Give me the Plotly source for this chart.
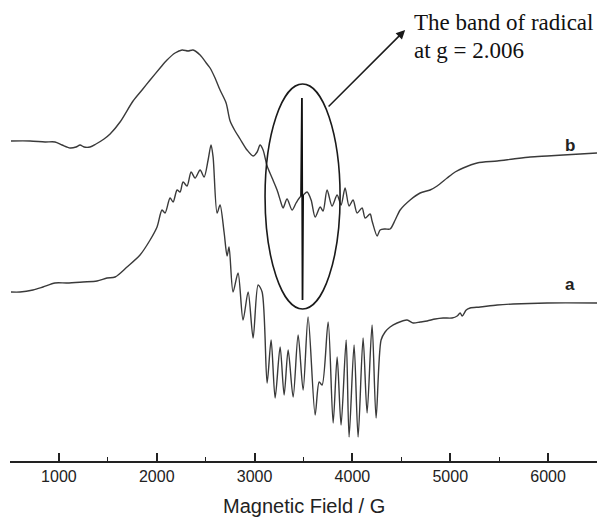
import plotly.graph_objects as go

# ---- EPR spectra (field in G, intensity in arbitrary units) ----
field_b = [510, 705, 858, 960, 1032, 1114, 1175, 1216, 1257, 1318, 1379, 1461, 1523,
           1625, 1758, 1850, 1932, 2034, 2105, 2187, 2259, 2320, 2371, 2443, 2514,
           2545, 2596, 2647, 2709, 2750, 2801, 2852, 2923, 2985, 3026, 3056, 3087,
           3128, 3179, 3230, 3271, 3291, 3332, 3383, 3424, 3465, 3496, 3537, 3578,
           3619, 3670, 3700, 3741, 3792, 3844, 3884, 3925, 3966, 4007, 4048, 4099,
           4130, 4181, 4201, 4253, 4283, 4334, 4385, 4437, 4488, 4590, 4692, 4794,
           4866, 4968, 5050, 5132, 5275, 5480, 5643, 5817, 5991, 6154, 6328, 6500]
signal_b = [0, 0, -1, -1, -4, -7, -6, -4, -6, -6, -3, 2, 7,
            19, 40, 51, 61, 73, 81, 88, 91, 90, 91, 86, 77,
            73, 63, 51, 38, 20, 10, 2, -9, -15, -11, -4, -9,
            -25, -37, -49, -62, -67, -58, -69, -62, -56, -54, -51, -59,
            -76, -66, -70, -49, -65, -54, -64, -47, -65, -59, -72, -67,
            -77, -73, -80, -95, -89, -88, -88, -79, -69, -59, -52, -49,
            -45, -37, -31, -27, -22, -20, -18, -16, -15, -14, -13, -12]

# narrow radical line (g = 2.006) superimposed on spectrum b
field_radical = [3475, 3484, 3490, 3496]
signal_radical = [-55, 43, -159, -54]

field_a = [510, 602, 735, 837, 960, 1083, 1246, 1390, 1492, 1574, 1696, 1829, 1932,
           2003, 2054, 2085, 2136, 2167, 2208, 2238, 2269, 2310, 2351, 2392, 2443,
           2484, 2525, 2555, 2576, 2617, 2647, 2688, 2719, 2739, 2780, 2831, 2882,
           2934, 2985, 3036, 3077, 3128, 3169, 3210, 3261, 3302, 3343, 3394, 3445,
           3496, 3547, 3619, 3660, 3690, 3752, 3803, 3844, 3884, 3936, 3966, 4017,
           4058, 4109, 4150, 4201, 4242, 4293, 4334, 4385, 4457, 4559, 4621, 4692,
           4764, 4846, 4927, 5019, 5071, 5101, 5122, 5163, 5203, 5306, 5480, 5643,
           5991, 6500]
signal_a = [0, 0, 2, 5, 9, 9, 10, 11, 14, 15, 25, 37, 52,
            65, 82, 79, 94, 90, 102, 100, 110, 106, 120, 114, 122,
            115, 132, 147, 135, 79, 87, 60, 36, 45, 0, 19, -28,
            0, -46, 7, 0, -91, -48, -106, -55, -103, -58, -105, -43,
            -98, -25, -123, -90, -93, -30, -131, -65, -133, -48, -145, -53,
            -145, -46, -121, -33, -126, -48, -40, -35, -31, -28, -31, -30,
            -29, -27, -26, -26, -24, -21, -24, -18, -16, -15, -13, -12,
            -11, -11]

# vertical stacking of the two spectra
offset_b = 320
offset_a = 169

tick_values = [1000, 2000, 3000, 4000, 5000, 6000]
tick_labels = ["1000", "2000", "3000", "4000", "5000", "6000"]

line_color = "#3a3a3a"

fig = go.Figure()
fig.add_trace(go.Scatter(
    x=field_b, y=[v + offset_b for v in signal_b], mode="lines",
    line=dict(color=line_color, width=1.4, shape="spline", smoothing=0.8),
    hoverinfo="skip", showlegend=False))
fig.add_trace(go.Scatter(
    x=field_radical, y=[v + offset_b for v in signal_radical], mode="lines",
    line=dict(color="#111111", width=1.8), hoverinfo="skip", showlegend=False))
fig.add_trace(go.Scatter(
    x=field_a, y=[v + offset_a for v in signal_a], mode="lines",
    line=dict(color=line_color, width=1.4, shape="spline", smoothing=0.8),
    hoverinfo="skip", showlegend=False))

# ellipse around the radical band
fig.add_shape(type="circle", xref="x", yref="y",
              x0=3107, x1=3874, y0=152, y1=377,
              line=dict(color="#1a1a1a", width=1.6))

annotations = [
    # arrow from the ellipse to the caption
    dict(x=4539, y=431, ax=3741, ay=353, xref="x", yref="y", axref="x", ayref="y",
         text="", showarrow=True, arrowhead=2, arrowsize=1.2, arrowwidth=1.5,
         arrowcolor="#1a1a1a", standoff=0),
    dict(x=4610, y=439, xref="x", yref="y", text="The band of radical",
         showarrow=False, xanchor="left", yanchor="middle",
         font=dict(family="Liberation Serif, Times New Roman, serif", size=23, color="#111111")),
    dict(x=4610, y=411, xref="x", yref="y", text="at g = 2.006",
         showarrow=False, xanchor="left", yanchor="middle",
         font=dict(family="Liberation Serif, Times New Roman, serif", size=23, color="#111111")),
    dict(x=6226, y=316, xref="x", yref="y", text="<b>b</b>", showarrow=False,
         font=dict(family="Liberation Sans, Arial, sans-serif", size=17, color="#222222")),
    dict(x=6226, y=177, xref="x", yref="y", text="<b>a</b>", showarrow=False,
         font=dict(family="Liberation Sans, Arial, sans-serif", size=17, color="#222222")),
    dict(x=0.5, y=0, xref="paper", yref="paper", yanchor="top", yshift=-32,
         text="Magnetic Field / G", showarrow=False,
         font=dict(family="Liberation Sans, Arial, sans-serif", size=20, color="#222222")),
]

fig.update_layout(
    width=598, height=519,
    margin=dict(l=10, r=1, t=0, b=58),
    paper_bgcolor="white", plot_bgcolor="white",
    annotations=annotations,
    xaxis=dict(
        range=[500, 6500], showgrid=False, zeroline=False,
        showline=True, linecolor="#222222", linewidth=1.5,
        ticks="inside", ticklen=8, tickwidth=1.5, tickcolor="#222222",
        tickvals=tick_values, ticktext=tick_labels,
        tickfont=dict(family="Liberation Sans, Arial, sans-serif", size=16, color="#222222"),
        minor=dict(ticks="inside", ticklen=4, tickwidth=1.3, tickcolor="#222222",
                   tick0=500, dtick=500, showgrid=False),
    ),
    yaxis=dict(range=[0, 461], visible=False),
)

fig.write_html("out.html")
